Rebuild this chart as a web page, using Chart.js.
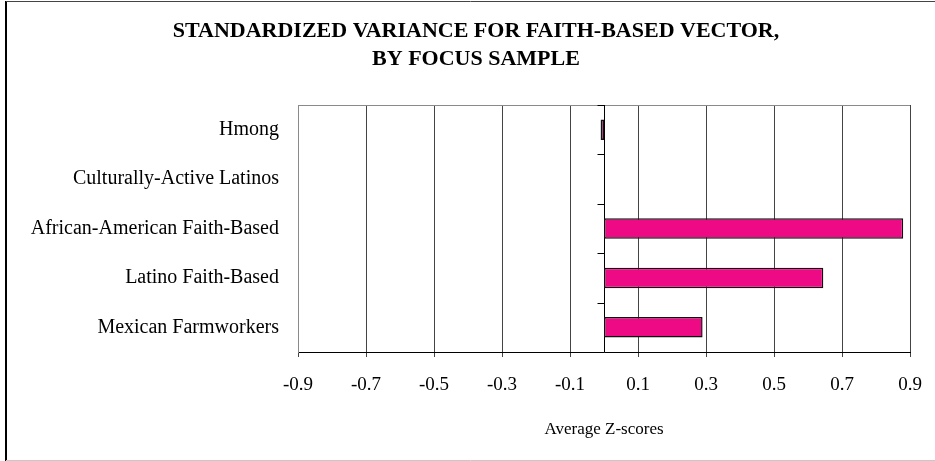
<!DOCTYPE html>
<html>
<head>
<meta charset="utf-8">
<script src="https://cdn.jsdelivr.net/npm/chart.js@4.4.0/dist/chart.umd.min.js"></script>
<style>
  html, body { margin: 0; padding: 0; background: #fff; }
  #wrap { position: relative; width: 935px; height: 461px; }
  canvas { display: block; }
</style>
</head>
<body>
<div id="wrap"><canvas id="c" width="935" height="461"></canvas></div>
<script>
// Focus samples, top to bottom
const categories = [
  'Hmong',
  'Culturally-Active Latinos',
  'African-American Faith-Based',
  'Latino Faith-Based',
  'Mexican Farmworkers'
];
// Average z-score per sample (no value for Culturally-Active Latinos)
const zScores = [-0.01, null, 0.88, 0.645, 0.29];
// Value-axis tick labels
const xTicks = [-0.9, -0.7, -0.5, -0.3, -0.1, 0.1, 0.3, 0.5, 0.7, 0.9];
const titleLines = ['STANDARDIZED VARIANCE FOR FAITH-BASED VECTOR,', 'BY FOCUS SAMPLE'];
const xAxisTitle = 'Average Z-scores';

const SERIF = "'Liberation Serif', 'Times New Roman', serif";

// Two-line bold heading, centred over the frame
const headingPlugin = {
  id: 'heading',
  afterDraw(chart) {
    const { ctx } = chart;
    ctx.save();
    ctx.fillStyle = '#000';
    ctx.font = `bold 22px ${SERIF}`;
    ctx.textAlign = 'center';
    ctx.textBaseline = 'middle';
    titleLines.forEach((line, i) => ctx.fillText(line, 476, 31.5 + i * 27.5));
    ctx.restore();
  }
};

// Plot frame, zero baseline with category tick marks, and the outer chart frame
const framePlugin = {
  id: 'frame',
  beforeDatasetsDraw(chart) {
    const { ctx, chartArea: a, scales: { x, y } } = chart;
    ctx.save();
    ctx.lineWidth = 1;
    ctx.strokeStyle = '#8a8a8a';
    ctx.beginPath();
    ctx.moveTo(a.left, Math.round(a.top) + 0.5);
    ctx.lineTo(a.right, Math.round(a.top) + 0.5);
    ctx.stroke();

    const x0 = Math.round(x.getPixelForValue(0)) + 0.5;
    ctx.strokeStyle = '#000';
    ctx.beginPath();
    ctx.moveTo(x0, a.top);
    ctx.lineTo(x0, a.bottom);
    for (let i = 0; i <= categories.length; i++) {
      const yy = Math.round(y.getPixelForValue(i - 0.5)) + 0.5;
      ctx.moveTo(x0 - 7, yy);
      ctx.lineTo(x0, yy);
    }
    ctx.stroke();
    ctx.restore();
  },
  afterDraw(chart) {
    const { ctx, width, height } = chart;
    ctx.save();
    ctx.strokeStyle = '#000';
    ctx.lineWidth = 2;
    ctx.beginPath();
    ctx.moveTo(6, 1);
    ctx.lineTo(6, height);
    ctx.stroke();
    ctx.lineWidth = 1;
    ctx.strokeStyle = '#444';
    ctx.beginPath();
    ctx.moveTo(6, 1.5);
    ctx.lineTo(width, 1.5);
    ctx.stroke();
    ctx.strokeStyle = '#c8c8c8';
    ctx.beginPath();
    ctx.moveTo(6, height - 0.5);
    ctx.lineTo(width, height - 0.5);
    ctx.stroke();
    ctx.restore();
  }
};

new Chart(document.getElementById('c'), {
  type: 'bar',
  data: {
    labels: categories,
    datasets: [{
      data: zScores,
      backgroundColor: '#EE0A84',
      borderColor: '#111',
      borderWidth: 1.5,
      borderSkipped: false,
      barPercentage: 0.415,
      categoryPercentage: 1
    }]
  },
  options: {
    indexAxis: 'y',
    responsive: false,
    animation: false,
    devicePixelRatio: 1,
    layout: { padding: { left: 8, right: 25, top: 105, bottom: 0 } },
    plugins: {
      legend: { display: false },
      tooltip: { enabled: false },
      title: { display: false }
    },
    scales: {
      x: {
        type: 'linear',
        min: -0.9,
        max: 0.9,
        afterBuildTicks(s) { s.ticks = xTicks.map(v => ({ value: v })); },
        afterFit(s) { s.height = 109; s.paddingLeft = 0; s.paddingRight = 0; },
        grid: { color: '#444', lineWidth: 1, tickLength: 5, drawTicks: true },
        border: { color: '#000', width: 1 },
        ticks: {
          color: '#000',
          font: { family: SERIF, size: 19 },
          padding: 17,
          maxRotation: 0,
          callback: (v) => Number(v).toFixed(1)
        },
        title: {
          display: true,
          text: xAxisTitle,
          color: '#000',
          font: { family: SERIF, size: 17 },
          padding: { top: 0, bottom: 21 }
        }
      },
      y: {
        type: 'category',
        afterFit(s) { s.width = 290; s.paddingTop = 0; s.paddingBottom = 0; },
        grid: { display: false },
        border: { display: true, color: '#8a8a8a', width: 1 },
        ticks: {
          color: '#000',
          font: { family: SERIF, size: 20 },
          padding: 11
        }
      }
    }
  },
  plugins: [framePlugin, headingPlugin]
});
</script>
</body>
</html>
